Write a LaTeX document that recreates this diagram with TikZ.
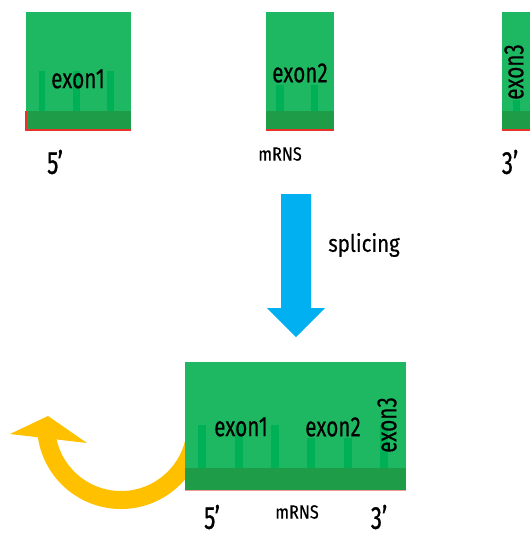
\documentclass[tikz,border=0pt]{standalone}
\usepackage{fontspec}
\setmainfont{Fira Sans}
\newfontfamily\fa[FakeStretch=0.74, FakeBold=0.3]{Fira Sans}
\newfontfamily\fc[FakeStretch=0.85, FakeBold=0.3]{Fira Sans}
\newfontfamily\fb[FakeStretch=0.7, FakeBold=0.8]{Fira Sans}
\definecolor{boxgreen}{HTML}{1FB862}
\definecolor{bandgreen}{HTML}{1E9C48}
\definecolor{bargreen}{HTML}{00B056}
\definecolor{linered}{HTML}{E8312A}
\definecolor{arrowblue}{HTML}{00B0F0}
\definecolor{arrowyellow}{HTML}{FFC000}
\tikzset{
  exonbox/.style={fill=boxgreen},
  band/.style={fill=bandgreen},
  bar/.style={fill=bargreen},
  redline/.style={draw=linered, line width=1.6pt},
  exontext/.style={inner sep=0pt, font=\fa\fontsize{28}{28}\selectfont},
  endtext/.style={inner sep=0pt, font=\fb\fontsize{32}{32}\selectfont},
  rnatext/.style={inner sep=0pt, font=\fc\fontsize{19}{19}\selectfont},
  steptext/.style={inner sep=0pt, font=\fc\fontsize{24}{24}\selectfont},
}
\begin{document}
\begin{tikzpicture}[x=1pt,y=-1pt]
\useasboundingbox (0,0) rectangle (530,536);
% ---------- top row ----------
% exon1
\fill[exonbox] (26,12) rectangle (131,130);
\fill[bar] (39,71) rectangle (45,111);
\fill[bar] (73,71) rectangle (80,111);
\fill[bar] (107,71) rectangle (114,111);
\fill[band] (26,111) rectangle (131,130);
\draw[redline] (26,111) -- (26,130) -- (131,130);
\node[exontext] (e1) at (78,79) {exon1};
% exon2
\fill[exonbox] (266,12) rectangle (334,130);
\fill[bar] (276,85) rectangle (284,111);
\fill[bar] (311,85) rectangle (318,111);
\fill[band] (266,111) rectangle (334,130);
\draw[redline] (266,130) -- (334,130);
\node[exontext] (e2) at (300,73) {exon2};
% exon3
\fill[exonbox] (502,12) rectangle (531,130);
\fill[bar] (513,100) rectangle (520,111);
\fill[band] (502,111) rectangle (531,130);
\draw[redline] (502,130) -- (531,130);
\node[exontext, rotate=90] (e3) at (514,72) {exon3};
% labels
\node[endtext] (p5) at (55,162) {5’};
\node[rnatext] (rna1) at (280,154) {mRNS};
\node[endtext] (p3) at (510,162) {3’};
% ---------- splicing arrow ----------
\fill[arrowblue] (281,194) -- (311,194) -- (311,308) -- (325,308) -- (296,337) -- (267,308) -- (281,308) -- cycle;
\node[steptext] (spl) at (364,245) {splicing};
% ---------- yellow arrow ----------
\draw[arrowyellow, line width=18pt] (196,425) arc[start angle=0, end angle=180, radius=75];
\fill[arrowyellow] (10,434) -- (48,416) -- (87,443) -- cycle;
% ---------- bottom box ----------
\fill[exonbox] (185,362) rectangle (406,490);
\fill[bar] (198,425) rectangle (206,468);
\fill[bar] (235,425) rectangle (243,468);
\fill[bar] (271,425) rectangle (279,468);
\fill[bar] (307,438) rectangle (315,468);
\fill[bar] (344,438) rectangle (352,468);
\fill[bar] (380,425) rectangle (388,468);
\fill[band] (185,468) rectangle (406,490);
\draw[draw=linered!50, line width=1pt] (185,490) -- (406,490);
\node[exontext] (f1) at (241,427) {exon1};
\node[exontext] (f2) at (333,427) {exon2};
\node[exontext, rotate=90] (f3) at (387,425) {exon3};
\node[endtext] (q5) at (212,517) {5’};
\node[rnatext] (rna2) at (297,512) {mRNS};
\node[endtext] (q3) at (379,517) {3’};
\end{tikzpicture}
\end{document}
